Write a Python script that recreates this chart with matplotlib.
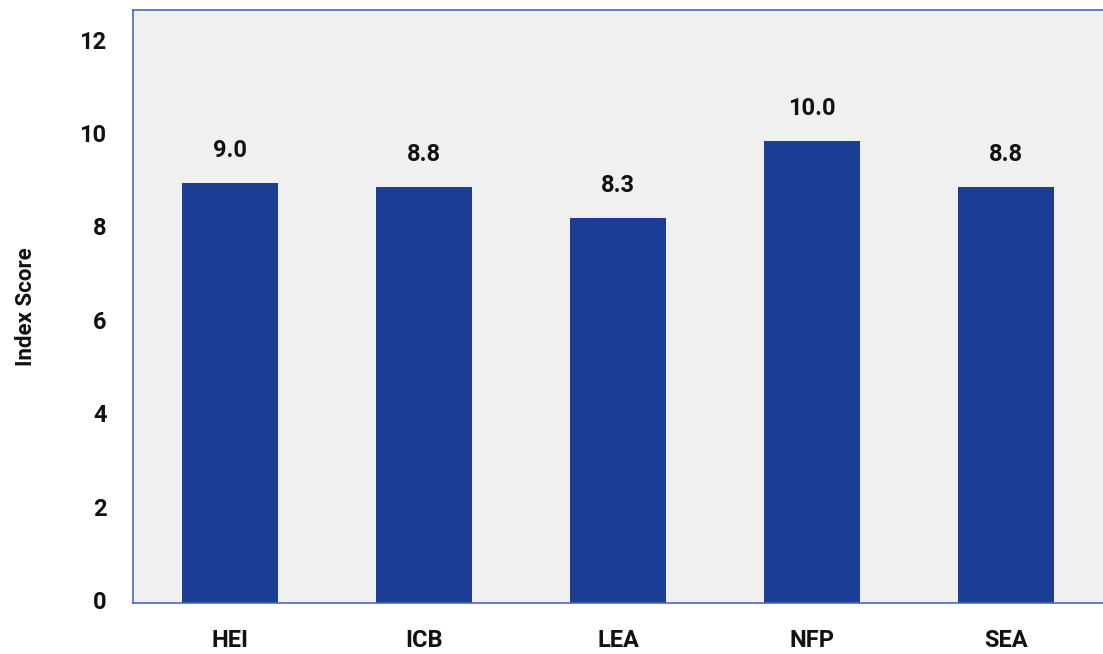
import matplotlib
matplotlib.use("Agg")
import matplotlib.pyplot as plt
from matplotlib import font_manager
from matplotlib.transforms import ScaledTranslation

categories = ["HEI", "ICB", "LEA", "NFP", "SEA"]
values = [9.0, 8.9, 8.25, 9.9, 8.9]
value_labels = ["9.0", "8.8", "8.3", "10.0", "8.8"]
yticks = [0, 2, 4, 6, 8, 10, 12]

names = {f.name for f in font_manager.fontManager.ttflist}
fam = [n for n in ["Roboto", "Liberation Sans"] if n in names] + ["DejaVu Sans"]
plt.rcParams['font.family'] = fam

fig = plt.figure(figsize=(11.03, 6.54), dpi=100)
ax = fig.add_axes([133/1103, 51/654, 970/1103, 593/654])
ax.set_facecolor("#f0f0f0")
bar_color = "#1c3d94"
x = list(range(len(categories)))
bars = ax.bar(x, values, width=0.495, color=bar_color, zorder=2)
for xi, v, lab in zip(x, values, value_labels):
    ax.annotate(lab, (xi, v), xytext=(0, 23.5), textcoords="offset points",
                ha="center", va="center", fontsize=17, fontweight="bold", color="#111111")
ax.set_xlim(-0.5, 4.5)
ax.set_ylim(0, 12.7)
ax.set_yticks(yticks)
ax.set_yticklabels([str(t) for t in yticks])
ax.set_xticks(x)
ax.set_xticklabels(categories)
ax.tick_params(axis="both", length=0, labelsize=17, colors="#111111")
ax.tick_params(axis="y", pad=19)
ax.tick_params(axis="x", pad=19)
for lab in ax.get_xticklabels() + ax.get_yticklabels():
    lab.set_fontweight("bold")
shift = ScaledTranslation(0, 3/100, fig.dpi_scale_trans)
for lab in ax.get_yticklabels():
    lab.set_transform(lab.get_transform() + shift)
spine_c = "#4a6ab8"
for s in ["left", "top", "bottom"]:
    ax.spines[s].set_color(spine_c)
    ax.spines[s].set_linewidth(1.2)
ax.spines["right"].set_visible(False)
ax.set_ylabel("Index Score", fontsize=16, fontweight="bold", color="#111111")
ax.yaxis.set_label_coords(-96/970, 0.5)
fig.savefig("out.png", dpi=100)
